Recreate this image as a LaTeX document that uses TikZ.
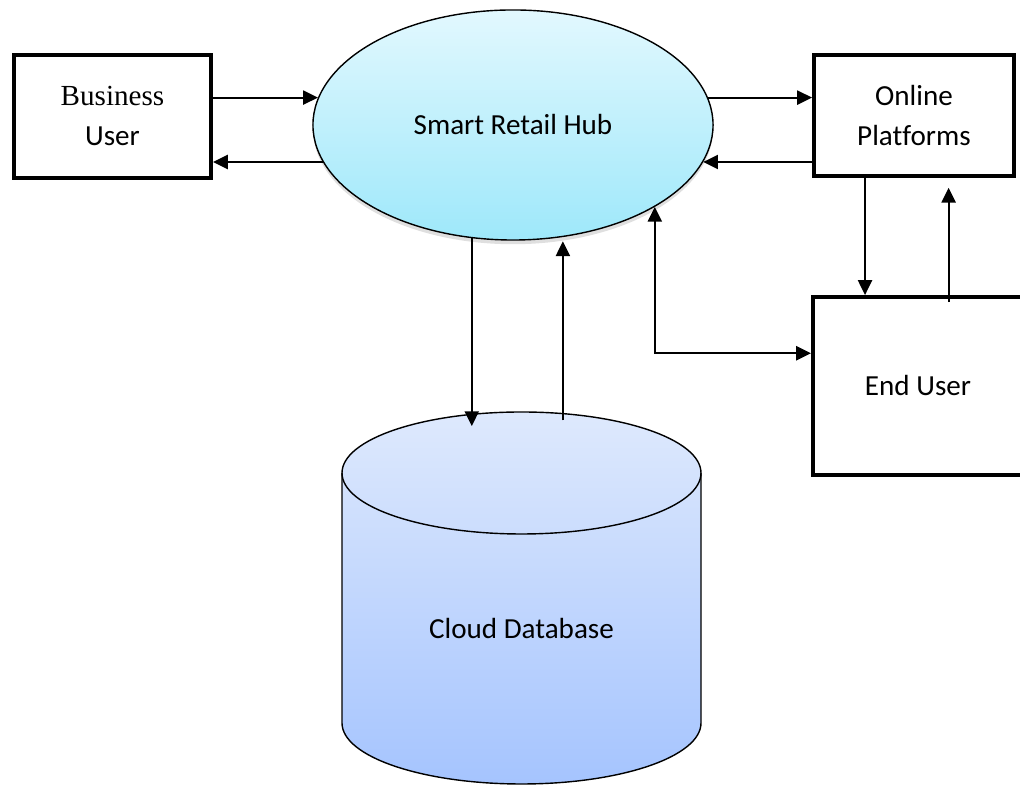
\documentclass[tikz,border=0pt]{standalone}
\usepackage{fontspec}
\setmainfont{Carlito}[Ligatures=NoCommon]
\newfontfamily\serifword{Liberation Serif}
\usetikzlibrary{arrows.meta}
\usetikzlibrary{calc}
\usetikzlibrary{shapes.geometric}
\usetikzlibrary{shadows}
\definecolor{hubtop}{RGB}{226,248,254}
\definecolor{hubbottom}{RGB}{158,232,250}
\definecolor{dbtop}{RGB}{222,233,253}
\definecolor{dbbottom}{RGB}{165,196,254}

\begin{document}
\begin{tikzpicture}[x=0.025cm, y=0.025cm,
                >={Triangle[length=10.5pt, width=10pt]},
                textfont/.style = {font=\fontsize{20.7}{28.4}\selectfont},
                box/.style = {draw, rectangle, line width=2.8pt, inner sep=0pt, align=center, textfont},
                link/.style = {line width=1.4pt, ->}]
                \useasboundingbox (0,0) rectangle (1020,786);
                \node[box, minimum width=4.925cm, minimum height=3.08cm] (bu) at (112.5,669.7) {{\serifword Business}\\User};
                \node[ellipse, draw, line width=1pt, inner sep=0pt, top color=hubtop, bottom color=hubbottom,
                      minimum width=10cm, minimum height=5.75cm, textfont,
                      drop shadow={shadow xshift=0pt, shadow yshift=-3pt, opacity=0.25}] (hub) at (513,661) {Smart Retail Hub};
                \node[box, minimum width=5cm, minimum height=3.025cm] (op) at (914,670.5) {Online\\Platforms};
                \node[box, minimum width=5.25cm, minimum height=4.45cm] (eu) at (918,400) {End User};
                \shadedraw[line width=1pt, top color=dbtop, bottom color=dbbottom] (342,313) arc (180:0:179.5 and 61) -- (701,63) arc (0:-180:179.5 and 61) -- cycle;
                \draw[line width=1pt] (342,313) arc (180:360:179.5 and 61);
                \node[textfont] (db) at (521.5,157) {Cloud Database};
                \coordinate (dbtop) at (521.5,374);
                \coordinate (opdown) at ($(op.south west)!.26!(op.south east)$);
                \coordinate (euup) at ($(eu.north west)!.643!(eu.north east)$);
                \draw[link] (bu.east |- hub.172) -- (hub.172);
                \draw[link] (hub.191) -- (bu.east |- hub.191);
                \draw[link] (hub.8) -- (op.west |- hub.8);
                \draw[link] (op.west |- hub.349) -- (hub.349);
                \draw[link] (opdown) -- (opdown |- eu.north);
                \draw[link, shorten <=-5pt, shorten >=7pt] (euup) -- (euup |- op.south);
                \draw[link, <->] (hub.330) |- (eu.163);
                \draw[link, shorten >=-10pt] (hub.250) -- (hub.250 |- dbtop);
                \draw[link, shorten <=-6pt, shorten >=3pt] (hub.294 |- dbtop) -- (hub.294);
            \end{tikzpicture}
\end{document}
